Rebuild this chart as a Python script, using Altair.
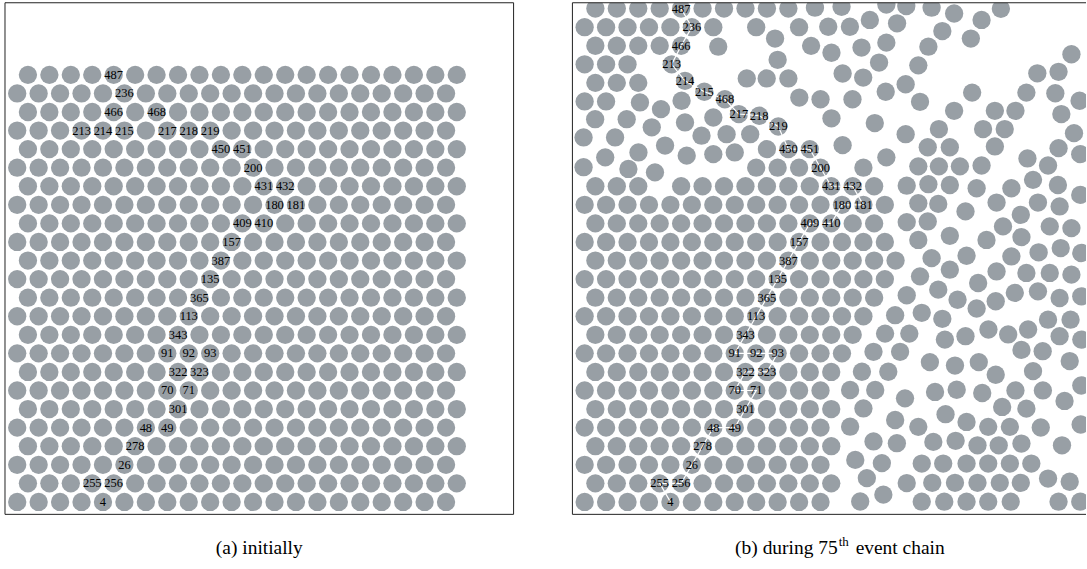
import altair as alt
import pandas as pd

# Box size in units of the disk spacing, and the pixel size of each panel
BOX_W_A, BOX_W_B, BOX_H = 23.72, 23.95, 23.86
PANEL_W_A, PANEL_W_B, PANEL_H = 510, 515, 513

# Initial triangular crystal: 24 rows x 21 columns, numbered sub-lattice by
# sub-lattice (even rows 0..251, then odd rows 252..503)
N_ROWS, N_COLS = 24, 21
FIRST_X, FIRST_Y, ROW_DY = 0.57, 0.58, 0.866
N_SUB = 252

# Particles touched by the event chain, in chain order
CHAIN = [4, 255, 256, 26, 278, 48, 49, 301, 71, 70, 322, 323, 93, 92, 91,
         343, 113, 365, 135, 387, 157, 409, 410, 180, 181, 432, 431, 200,
         451, 450, 219, 218, 217, 468, 215, 214, 213, 466, 236, 487]

# During the 75th chain: rows still sitting on their initial sites (col ranges)
B_STILL = {0: [(0, 11)], 1: [(0, 11)], 2: [(0, 11)], 3: [(0, 11)],
           4: [(0, 11)], 5: [(0, 11)], 6: [(0, 11)], 7: [(0, 11)],
           8: [(0, 12)], 9: [(0, 12)], 10: [(0, 13)], 11: [(0, 13)],
           12: [(0, 14)], 13: [(0, 14)], 14: [(0, 14)], 15: [(0, 13)],
           16: [(0, 14)], 17: [(0, 2), (4, 13)], 18: [(8, 11), (13, 13)],
           19: [(8, 10)]}
# Upper-left block moved up as a whole
B_SHIFT_Y = 3.09
B_SHIFTED = {23: [(0, 9)], 22: [(0, 6), (8, 8), (10, 10)], 21: [(0, 4)],
             20: [(0, 2)], 19: [(0, 2)], 18: [(0, 1)]}
# Chain particles that left their sites
B_MOVED = {219: (9.60, 18.09), 218: (8.71, 18.59), 217: (7.76, 18.67),
           468: (7.11, 19.36), 215: (6.15, 19.71), 214: (5.25, 20.22),
           213: (4.63, 20.99)}
# All other displaced disks
B_FREE_X = [
    # upper middle
    11.31, 12.55, 14.64, 15.57, 11.93, 12.94, 13.87, 15.14, 9.45, 11.13,
    12.08, 13.48, 14.64, 9.57, 14.30, 8.13, 9.06, 10.07, 12.60, 13.56,
    15.54, 14.61, 10.58, 11.57, 13.06, 12.08, 14.10, 15.54, 8.29, 12.60,
    14.64, 6.80,
    # upper left, below the raised block
    1.06, 2.53, 3.70, 5.25, 3.15, 4.13, 5.09, 6.57, 0.52, 1.99,
    6.02, 7.19, 1.53, 3.08, 4.32, 5.33, 6.57, 7.57, 0.52, 2.61,
    3.85,
    # upper right
    16.75, 17.80, 19.98, 19.08, 17.25, 18.58, 16.60, 16.13, 23.27, 21.68,
    22.67, 18.64, 21.17, 22.52, 23.65, 16.21, 17.80, 19.70, 20.66, 22.80,
    17.09, 19.15, 20.16, 23.39, 16.57, 17.60, 19.70, 22.67, 23.68, 21.22,
    22.18, 17.09, 18.07, 19.08, 16.13,
    # middle right
    16.60, 17.60, 18.85, 20.47, 21.48, 22.64, 23.68, 16.13, 17.06, 19.78,
    18.33, 21.71, 20.91, 22.72, 16.57, 20.08, 22.26, 23.27, 16.13, 17.60,
    19.31, 20.94, 16.75, 18.38, 20.47, 21.74, 22.77, 23.73, 17.60, 19.78,
    21.17, 22.26, 23.27, 16.21, 18.92, 20.63, 21.71, 23.73, 17.06, 17.96,
    19.74, 22.72, 16.29, 17.25, 18.85, 22.18, 23.23, 18.33, 19.40, 20.32,
    21.25, 22.72, 23.73, 17.37, 15.59, 15.59, 15.59,
    # grain boundary, lower middle
    15.05, 14.58, 15.71, 14.04, 15.28, 13.50, 14.73, 12.95, 14.12, 15.51,
    13.57, 15.05, 12.95, 14.04, 15.13, 13.19, 14.43, 13.73, 15.59, 13.42,
    14.50,
    # lower right
    16.67, 17.84, 18.95, 19.74, 20.94, 21.93, 21.48, 23.19, 16.91, 17.92,
    19.11, 20.66, 21.94, 22.95, 23.73, 20.04, 21.17, 17.40, 18.38, 19.39,
    20.40, 21.84, 23.70, 16.13, 16.83, 17.87, 18.89, 19.88, 20.94, 22.83,
    16.29, 17.29, 18.38, 19.39, 20.40, 21.40, 22.18, 23.19, 16.78, 17.84,
    18.89, 19.93, 20.91, 16.29, 17.34, 18.38, 19.39, 20.44, 22.67, 23.68]
B_FREE_Y = [
    23.63, 23.67, 23.78, 23.71, 22.74, 22.74, 23.06, 22.90, 22.19, 21.85,
    21.53, 21.77, 22.00, 21.20, 21.07, 20.33, 20.33, 20.33, 20.56, 20.37,
    20.06, 19.71, 19.44, 19.36, 19.36, 18.47, 18.25, 17.73, 17.73, 17.22,
    16.65, 21.81,
    18.43, 18.43, 18.05, 18.28, 19.21, 18.90, 19.29, 18.51, 17.58, 17.58,
    17.66, 17.73, 16.65, 16.88, 17.20, 16.73, 16.80, 16.88, 16.19, 16.11,
    15.95,
    23.63, 23.36, 23.58, 23.06, 22.54, 22.19, 21.81, 20.94, 21.46, 20.57,
    20.64, 19.67, 19.67, 19.64, 19.29, 19.24, 18.82, 18.82, 18.82, 18.67,
    17.97, 17.97, 17.97, 17.78, 17.12, 17.12, 17.16, 17.08, 16.80, 16.60,
    16.27, 16.23, 16.23, 16.27, 16.23,
    15.40, 15.36, 15.21, 15.21, 15.60, 15.36, 14.90, 14.51, 14.48, 14.54,
    14.13, 14.54, 13.97, 14.36, 13.66, 13.43, 13.43, 13.35, 12.80, 12.99,
    12.80, 12.93, 11.95, 12.06, 12.03, 12.22, 12.42, 12.19, 11.41, 11.33,
    11.26, 11.26, 11.18, 11.10, 10.79, 10.33, 10.40, 10.17, 10.48, 10.01,
    9.94, 10.09, 9.40, 9.12, 9.60, 9.08, 9.08, 8.31, 8.62, 8.39,
    8.62, 8.31, 8.15, 8.15, 13.63, 15.33, 10.22,
    9.29, 8.43, 8.43, 7.58, 7.58, 6.65, 6.65, 5.80, 5.80, 5.41,
    4.94, 4.40, 4.09, 3.40, 3.32, 2.54, 2.39, 1.69, 1.46, 0.60,
    0.92,
    7.10, 6.94, 7.10, 6.51, 7.67, 7.61, 6.68, 7.15, 5.71, 5.81,
    5.66, 5.78, 5.78, 5.29, 6.01, 5.01, 4.93, 4.67, 4.31, 4.08,
    4.08, 4.05, 4.19, 4.08, 3.38, 3.43, 3.22, 3.22, 3.30, 3.22,
    2.37, 2.37, 2.37, 2.37, 2.37, 2.37, 1.67, 1.52, 1.47, 1.47,
    1.47, 1.47, 1.47, 0.59, 0.59, 0.59, 0.59, 0.59, 0.59, 0.59]

DISK_COLOR = "#989fa5"
DISK_SIZE = 337          # marker area in px^2 (diameter ~20.7 px)
LABEL_FONT = "Liberation Serif"


def site(pid):
    """Row and column of a particle on the initial crystal."""
    if pid < N_SUB:
        return 2 * (pid // N_COLS), pid % N_COLS
    j = pid - N_SUB
    return 2 * (j // N_COLS) + 1, j % N_COLS


def pid_of(r, c):
    if r % 2 == 0:
        return (r // 2) * N_COLS + c
    return N_SUB + (r // 2) * N_COLS + c


def lattice_xy(r, c):
    return FIRST_X + c + 0.5 * (r % 2), FIRST_Y + ROW_DY * r


# ---------- panel (a): the initial crystal ----------
a_disks = pd.DataFrame(
    [dict(zip(("x", "y"), lattice_xy(*site(p)))) for p in range(2 * N_SUB)])
a_labels = pd.DataFrame(
    [dict(x=lattice_xy(*site(p))[0], y=lattice_xy(*site(p))[1], t=str(p))
     for p in CHAIN])

# ---------- panel (b): configuration during the chain ----------
b_pos = {}
for r, ranges in B_STILL.items():
    for lo, hi in ranges:
        for c in range(lo, hi + 1):
            b_pos[pid_of(r, c)] = lattice_xy(r, c)
for r, ranges in B_SHIFTED.items():
    for lo, hi in ranges:
        for c in range(lo, hi + 1):
            x, y = lattice_xy(r, c)
            b_pos[pid_of(r, c)] = (x, y + B_SHIFT_Y)
for p in CHAIN:
    if p in B_MOVED:
        b_pos[p] = B_MOVED[p]
    elif p not in b_pos:
        b_pos[p] = lattice_xy(*site(p))

b_rows = [dict(x=x, y=y) for x, y in b_pos.values()]
b_rows += [dict(x=x, y=y) for x, y in zip(B_FREE_X, B_FREE_Y)]
b_disks = pd.DataFrame(b_rows)
b_chain = pd.DataFrame([dict(x=b_pos[p][0], y=b_pos[p][1], t=str(p), k=i)
                        for i, p in enumerate(CHAIN)])


def xs(w):
    return alt.Scale(domain=[0, w], nice=False, zero=False)


YS = alt.Scale(domain=[0, BOX_H], nice=False, zero=False)


def disks(df, w, clip):
    return alt.Chart(df).mark_circle(
        color=DISK_COLOR, opacity=1, size=DISK_SIZE, clip=clip
    ).encode(x=alt.X("x:Q", scale=xs(w), axis=None),
             y=alt.Y("y:Q", scale=YS, axis=None))


def labels(df, w):
    return alt.Chart(df).mark_text(
        font=LABEL_FONT, fontSize=12.5, color="black", baseline="middle"
    ).encode(x=alt.X("x:Q", scale=xs(w), axis=None),
             y=alt.Y("y:Q", scale=YS, axis=None), text="t:N")


def frame(w, sides):
    segs = {"bottom": (0, 0, w, 0), "top": (0, BOX_H, w, BOX_H),
            "left": (0, 0, 0, BOX_H), "right": (w, 0, w, BOX_H)}
    df = pd.DataFrame([dict(zip(("x", "y", "x2", "y2"), segs[s])) for s in sides])
    return alt.Chart(df).mark_rule(color="#222", strokeWidth=1).encode(
        x=alt.X("x:Q", scale=xs(w), axis=None), x2="x2:Q",
        y=alt.Y("y:Q", scale=YS, axis=None), y2="y2:Q")


one = pd.DataFrame({"v": [0]})


def caption(text, x, y, size, align):
    return alt.Chart(one).mark_text(
        text=text, font=LABEL_FONT, fontSize=size, align=align,
        baseline="alphabetic", color="black"
    ).encode(x=alt.value(x), y=alt.value(y))


panel_a = alt.layer(
    disks(a_disks, BOX_W_A, False),
    labels(a_labels, BOX_W_A),
    frame(BOX_W_A, ["bottom", "top", "left", "right"]),
    caption("(a) initially", PANEL_W_A / 2, 553, 19.5, "center"),
).properties(width=PANEL_W_A, height=PANEL_H)

chain_line = alt.Chart(b_chain).mark_line(
    color="white", strokeWidth=1.2
).encode(x=alt.X("x:Q", scale=xs(BOX_W_B), axis=None),
         y=alt.Y("y:Q", scale=YS, axis=None), order="k:Q")

panel_b = alt.layer(
    disks(b_disks, BOX_W_B, True),
    chain_line,
    labels(b_chain, BOX_W_B),
    frame(BOX_W_B, ["bottom", "top", "left"]),
    caption("(b) during 75", 266, 553, 19.5, "right"),
    caption("th", 267, 545, 13, "left"),
    caption("event chain", 284, 553, 19.5, "left"),
).properties(width=PANEL_W_B, height=PANEL_H)

chart = alt.hconcat(panel_a, panel_b, spacing=57).resolve_scale(
    x="independent", y="independent"
).properties(
    padding={"left": 4, "top": 1, "right": 0, "bottom": 0}
).configure_view(stroke=None)

chart.save("out.html", embed_options={"renderer": "svg", "actions": False})
